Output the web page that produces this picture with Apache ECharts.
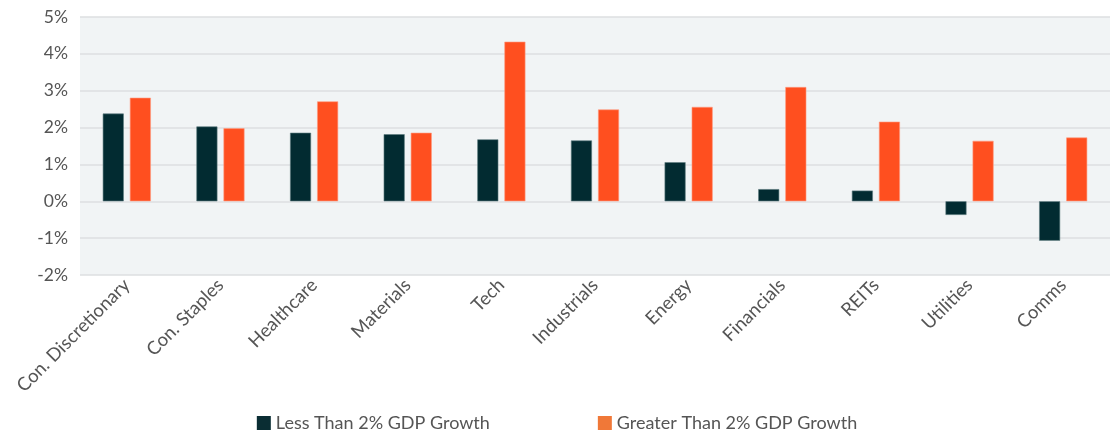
<!DOCTYPE html>
<html>
<head>
<meta charset="utf-8">
<script src="https://cdn.jsdelivr.net/npm/echarts@6/dist/echarts.min.js"></script>
<style>html,body{margin:0;padding:0;background:#fff}#c{width:1114px;height:432px}</style>
</head>
<body>
<div id="c"></div>
<script>
var categories = ['Con. Discretionary','Con. Staples','Healthcare','Materials','Tech','Industrials','Energy','Financials','REITs','Utilities','Comms'];
var seriesNames = ['Less Than 2% GDP Growth','Greater Than 2% GDP Growth'];
var lessThan2 = [2.38, 2.03, 1.86, 1.82, 1.68, 1.65, 1.06, 0.33, 0.29, -0.37, -1.07];
var greaterThan2 = [2.81, 1.98, 2.71, 1.86, 4.33, 2.49, 2.56, 3.10, 2.16, 1.64, 1.73];

var chart = echarts.init(document.getElementById('c'));
var font = 'Lato, "Open Sans", sans-serif';
chart.setOption({
  animation: false,
  textStyle: {fontFamily: font},
  grid: {left: 80, right: 4, top: 17, bottom: 157, show: true, backgroundColor: '#f1f4f5', borderWidth: 0},
  legend: {
    top: 409, left: 'center', itemWidth: 14, itemHeight: 14, itemGap: 108, icon: 'rect',
    textStyle: {fontSize: 18, color: '#555', fontFamily: font},
    data: [
      {name: seriesNames[0], itemStyle: {color: '#0a2d33', borderWidth: 0}},
      {name: seriesNames[1], itemStyle: {color: '#f07838', borderWidth: 0}}
    ]
  },
  xAxis: {
    type: 'category', data: categories,
    axisLine: {show: false}, axisTick: {show: false},
    axisLabel: {rotate: 45, fontSize: 18.5, color: '#555', margin: 7, interval: 0, fontFamily: font}
  },
  yAxis: {
    type: 'value', min: -2, max: 5, interval: 1,
    axisLabel: {formatter: '{value}%', fontSize: 17.5, color: '#555', margin: 12, fontFamily: font},
    axisLine: {show: false}, axisTick: {show: false},
    splitLine: {lineStyle: {color: '#dcdfe1', width: 1.5}}
  },
  series: [
    {name: seriesNames[0], type: 'bar', data: lessThan2, barWidth: 21, barGap: '29%',
     itemStyle: {color: '#022b31', borderColor: '#5d7a7e', borderWidth: 0.6}},
    {name: seriesNames[1], type: 'bar', data: greaterThan2, barWidth: 21,
     itemStyle: {color: '#ff4f1f', borderColor: '#ff9a80', borderWidth: 0.6}}
  ]
});
</script>
</body>
</html>
